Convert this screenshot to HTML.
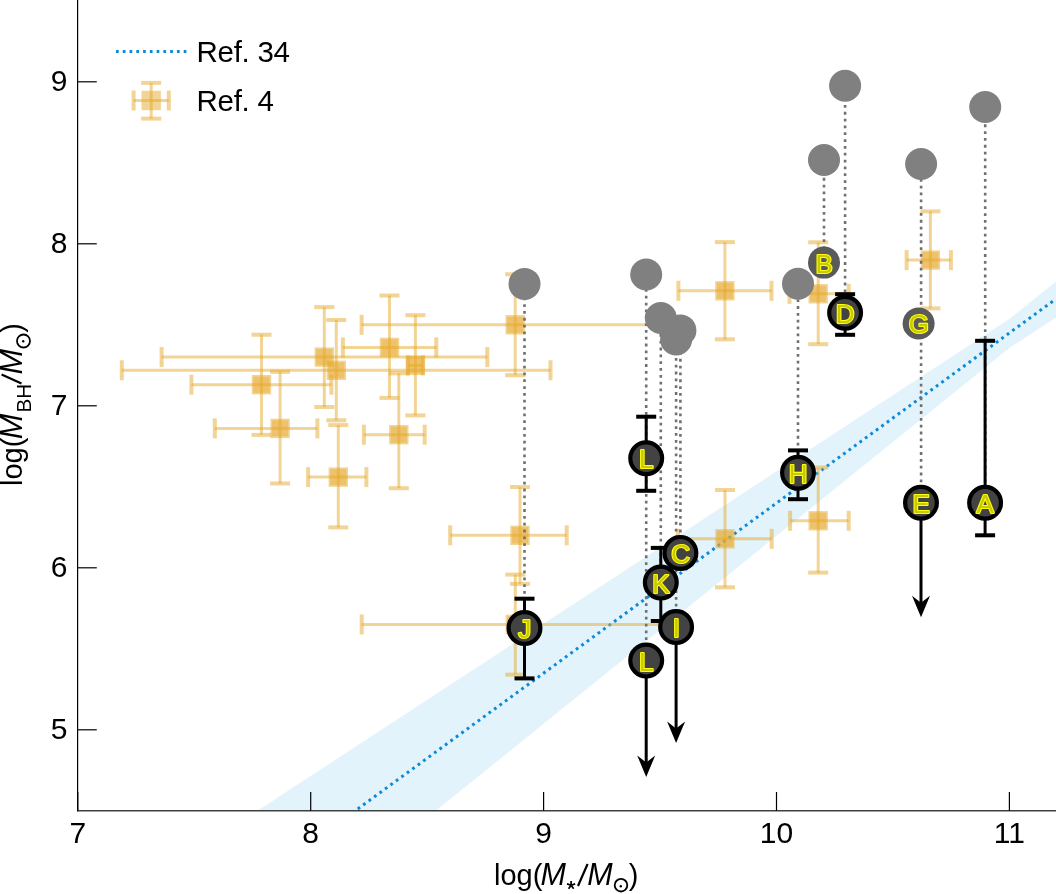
<!DOCTYPE html>
<html><head><meta charset="utf-8"><title>plot</title><style>
html,body{margin:0;padding:0;background:#fff;width:1056px;height:894px;overflow:hidden}
svg{display:block;will-change:transform}
text{font-family:"Liberation Sans",sans-serif}
</style></head><body>
<svg width="1056" height="894" viewBox="0 0 1056 894">
<polygon points="257.4,810.8 1009.4,319.1 1056.0,281.5 1056.0,317.5 1009.4,348.0 435.8,810.8" fill="#e3f3fb"/>
<line x1="355.2" y1="810.8" x2="1056" y2="298.9" stroke="#0a8ad8" stroke-width="3.0" stroke-dasharray="2.8 3.955" stroke-dashoffset="3.6"/>
<line x1="191.4" y1="384.7" x2="331.4" y2="384.7" stroke="rgba(230,170,45,0.5)" stroke-width="3.0"/><line x1="261.5" y1="334.7" x2="261.5" y2="434.9" stroke="rgba(230,170,45,0.5)" stroke-width="3.0"/><rect x="189.4" y="374.7" width="4.0" height="20.0" fill="rgba(230,170,45,0.5)"/><rect x="329.4" y="374.7" width="4.0" height="20.0" fill="rgba(230,170,45,0.5)"/><rect x="251.5" y="332.7" width="20.0" height="4.0" fill="rgba(230,170,45,0.5)"/><rect x="251.5" y="432.9" width="20.0" height="4.0" fill="rgba(230,170,45,0.5)"/><rect x="251.8" y="375.0" width="19.4" height="19.4" fill="rgba(230,170,45,0.5)"/><rect x="253.4" y="376.6" width="16.2" height="16.2" fill="rgba(230,170,45,0.42)"/>
<line x1="214.8" y1="428.4" x2="317.4" y2="428.4" stroke="rgba(230,170,45,0.5)" stroke-width="3.0"/><line x1="280.1" y1="371.8" x2="280.1" y2="483.5" stroke="rgba(230,170,45,0.5)" stroke-width="3.0"/><rect x="212.8" y="418.4" width="4.0" height="20.0" fill="rgba(230,170,45,0.5)"/><rect x="315.4" y="418.4" width="4.0" height="20.0" fill="rgba(230,170,45,0.5)"/><rect x="270.1" y="369.8" width="20.0" height="4.0" fill="rgba(230,170,45,0.5)"/><rect x="270.1" y="481.5" width="20.0" height="4.0" fill="rgba(230,170,45,0.5)"/><rect x="270.4" y="418.7" width="19.4" height="19.4" fill="rgba(230,170,45,0.5)"/><rect x="272.0" y="420.3" width="16.2" height="16.2" fill="rgba(230,170,45,0.42)"/>
<line x1="161.6" y1="357.1" x2="487.3" y2="357.1" stroke="rgba(230,170,45,0.5)" stroke-width="3.0"/><line x1="324.3" y1="307.1" x2="324.3" y2="407.0" stroke="rgba(230,170,45,0.5)" stroke-width="3.0"/><rect x="159.6" y="347.1" width="4.0" height="20.0" fill="rgba(230,170,45,0.5)"/><rect x="485.3" y="347.1" width="4.0" height="20.0" fill="rgba(230,170,45,0.5)"/><rect x="314.3" y="305.1" width="20.0" height="4.0" fill="rgba(230,170,45,0.5)"/><rect x="314.3" y="405.0" width="20.0" height="4.0" fill="rgba(230,170,45,0.5)"/><rect x="314.6" y="347.4" width="19.4" height="19.4" fill="rgba(230,170,45,0.5)"/><rect x="316.2" y="349.0" width="16.2" height="16.2" fill="rgba(230,170,45,0.42)"/>
<line x1="121.8" y1="370.3" x2="550.5" y2="370.3" stroke="rgba(230,170,45,0.5)" stroke-width="3.0"/><line x1="336.3" y1="320.0" x2="336.3" y2="420.3" stroke="rgba(230,170,45,0.5)" stroke-width="3.0"/><rect x="119.8" y="360.3" width="4.0" height="20.0" fill="rgba(230,170,45,0.5)"/><rect x="548.5" y="360.3" width="4.0" height="20.0" fill="rgba(230,170,45,0.5)"/><rect x="326.3" y="318.0" width="20.0" height="4.0" fill="rgba(230,170,45,0.5)"/><rect x="326.3" y="418.3" width="20.0" height="4.0" fill="rgba(230,170,45,0.5)"/><rect x="326.6" y="360.6" width="19.4" height="19.4" fill="rgba(230,170,45,0.5)"/><rect x="328.2" y="362.2" width="16.2" height="16.2" fill="rgba(230,170,45,0.42)"/>
<line x1="342.9" y1="347.4" x2="436.3" y2="347.4" stroke="rgba(230,170,45,0.5)" stroke-width="3.0"/><line x1="389.5" y1="295.5" x2="389.5" y2="397.9" stroke="rgba(230,170,45,0.5)" stroke-width="3.0"/><rect x="340.9" y="337.4" width="4.0" height="20.0" fill="rgba(230,170,45,0.5)"/><rect x="434.3" y="337.4" width="4.0" height="20.0" fill="rgba(230,170,45,0.5)"/><rect x="379.5" y="293.5" width="20.0" height="4.0" fill="rgba(230,170,45,0.5)"/><rect x="379.5" y="395.9" width="20.0" height="4.0" fill="rgba(230,170,45,0.5)"/><rect x="379.8" y="337.7" width="19.4" height="19.4" fill="rgba(230,170,45,0.5)"/><rect x="381.4" y="339.3" width="16.2" height="16.2" fill="rgba(230,170,45,0.42)"/>
<line x1="408.0" y1="365.4" x2="422.8" y2="365.4" stroke="rgba(230,170,45,0.5)" stroke-width="3.0"/><line x1="415.4" y1="315.2" x2="415.4" y2="415.4" stroke="rgba(230,170,45,0.5)" stroke-width="3.0"/><rect x="406.0" y="355.4" width="4.0" height="20.0" fill="rgba(230,170,45,0.5)"/><rect x="420.8" y="355.4" width="4.0" height="20.0" fill="rgba(230,170,45,0.5)"/><rect x="405.4" y="313.2" width="20.0" height="4.0" fill="rgba(230,170,45,0.5)"/><rect x="405.4" y="413.4" width="20.0" height="4.0" fill="rgba(230,170,45,0.5)"/><rect x="405.7" y="355.7" width="19.4" height="19.4" fill="rgba(230,170,45,0.5)"/><rect x="407.3" y="357.3" width="16.2" height="16.2" fill="rgba(230,170,45,0.42)"/>
<line x1="363.9" y1="434.7" x2="424.7" y2="434.7" stroke="rgba(230,170,45,0.5)" stroke-width="3.0"/><line x1="398.8" y1="373.3" x2="398.8" y2="488.2" stroke="rgba(230,170,45,0.5)" stroke-width="3.0"/><rect x="361.9" y="424.7" width="4.0" height="20.0" fill="rgba(230,170,45,0.5)"/><rect x="422.7" y="424.7" width="4.0" height="20.0" fill="rgba(230,170,45,0.5)"/><rect x="388.8" y="371.3" width="20.0" height="4.0" fill="rgba(230,170,45,0.5)"/><rect x="388.8" y="486.2" width="20.0" height="4.0" fill="rgba(230,170,45,0.5)"/><rect x="389.1" y="425.0" width="19.4" height="19.4" fill="rgba(230,170,45,0.5)"/><rect x="390.7" y="426.6" width="16.2" height="16.2" fill="rgba(230,170,45,0.42)"/>
<line x1="308.1" y1="477.1" x2="366.4" y2="477.1" stroke="rgba(230,170,45,0.5)" stroke-width="3.0"/><line x1="338.3" y1="425.1" x2="338.3" y2="527.4" stroke="rgba(230,170,45,0.5)" stroke-width="3.0"/><rect x="306.1" y="467.1" width="4.0" height="20.0" fill="rgba(230,170,45,0.5)"/><rect x="364.4" y="467.1" width="4.0" height="20.0" fill="rgba(230,170,45,0.5)"/><rect x="328.3" y="423.1" width="20.0" height="4.0" fill="rgba(230,170,45,0.5)"/><rect x="328.3" y="525.4" width="20.0" height="4.0" fill="rgba(230,170,45,0.5)"/><rect x="328.6" y="467.4" width="19.4" height="19.4" fill="rgba(230,170,45,0.5)"/><rect x="330.2" y="469.0" width="16.2" height="16.2" fill="rgba(230,170,45,0.42)"/>
<line x1="361.6" y1="324.8" x2="668.8" y2="324.8" stroke="rgba(230,170,45,0.5)" stroke-width="3.0"/><line x1="515.2" y1="274.3" x2="515.2" y2="375.2" stroke="rgba(230,170,45,0.5)" stroke-width="3.0"/><rect x="359.6" y="314.8" width="4.0" height="20.0" fill="rgba(230,170,45,0.5)"/><rect x="666.8" y="314.8" width="4.0" height="20.0" fill="rgba(230,170,45,0.5)"/><rect x="505.2" y="272.3" width="20.0" height="4.0" fill="rgba(230,170,45,0.5)"/><rect x="505.2" y="373.2" width="20.0" height="4.0" fill="rgba(230,170,45,0.5)"/><rect x="505.5" y="315.1" width="19.4" height="19.4" fill="rgba(230,170,45,0.5)"/><rect x="507.1" y="316.7" width="16.2" height="16.2" fill="rgba(230,170,45,0.42)"/>
<line x1="450.2" y1="535.3" x2="566.7" y2="535.3" stroke="rgba(230,170,45,0.5)" stroke-width="3.0"/><line x1="520.0" y1="487.0" x2="520.0" y2="583.9" stroke="rgba(230,170,45,0.5)" stroke-width="3.0"/><rect x="448.2" y="525.3" width="4.0" height="20.0" fill="rgba(230,170,45,0.5)"/><rect x="564.7" y="525.3" width="4.0" height="20.0" fill="rgba(230,170,45,0.5)"/><rect x="510.0" y="485.0" width="20.0" height="4.0" fill="rgba(230,170,45,0.5)"/><rect x="510.0" y="581.9" width="20.0" height="4.0" fill="rgba(230,170,45,0.5)"/><rect x="510.3" y="525.6" width="19.4" height="19.4" fill="rgba(230,170,45,0.5)"/><rect x="511.9" y="527.2" width="16.2" height="16.2" fill="rgba(230,170,45,0.42)"/>
<line x1="678.4" y1="290.8" x2="771.5" y2="290.8" stroke="rgba(230,170,45,0.5)" stroke-width="3.0"/><line x1="724.9" y1="242.1" x2="724.9" y2="339.3" stroke="rgba(230,170,45,0.5)" stroke-width="3.0"/><rect x="676.4" y="280.8" width="4.0" height="20.0" fill="rgba(230,170,45,0.5)"/><rect x="769.5" y="280.8" width="4.0" height="20.0" fill="rgba(230,170,45,0.5)"/><rect x="714.9" y="240.1" width="20.0" height="4.0" fill="rgba(230,170,45,0.5)"/><rect x="714.9" y="337.3" width="20.0" height="4.0" fill="rgba(230,170,45,0.5)"/><rect x="715.2" y="281.1" width="19.4" height="19.4" fill="rgba(230,170,45,0.5)"/><rect x="716.8" y="282.7" width="16.2" height="16.2" fill="rgba(230,170,45,0.42)"/>
<line x1="789.5" y1="293.8" x2="848.7" y2="293.8" stroke="rgba(230,170,45,0.5)" stroke-width="3.0"/><line x1="818.2" y1="242.3" x2="818.2" y2="344.2" stroke="rgba(230,170,45,0.5)" stroke-width="3.0"/><rect x="787.5" y="283.8" width="4.0" height="20.0" fill="rgba(230,170,45,0.5)"/><rect x="846.7" y="283.8" width="4.0" height="20.0" fill="rgba(230,170,45,0.5)"/><rect x="808.2" y="240.3" width="20.0" height="4.0" fill="rgba(230,170,45,0.5)"/><rect x="808.2" y="342.2" width="20.0" height="4.0" fill="rgba(230,170,45,0.5)"/><rect x="808.5" y="284.1" width="19.4" height="19.4" fill="rgba(230,170,45,0.5)"/><rect x="810.1" y="285.7" width="16.2" height="16.2" fill="rgba(230,170,45,0.42)"/>
<line x1="906.6" y1="260.1" x2="950.9" y2="260.1" stroke="rgba(230,170,45,0.5)" stroke-width="3.0"/><line x1="930.4" y1="211.4" x2="930.4" y2="308.4" stroke="rgba(230,170,45,0.5)" stroke-width="3.0"/><rect x="904.6" y="250.1" width="4.0" height="20.0" fill="rgba(230,170,45,0.5)"/><rect x="948.9" y="250.1" width="4.0" height="20.0" fill="rgba(230,170,45,0.5)"/><rect x="920.4" y="209.4" width="20.0" height="4.0" fill="rgba(230,170,45,0.5)"/><rect x="920.4" y="306.4" width="20.0" height="4.0" fill="rgba(230,170,45,0.5)"/><rect x="920.7" y="250.4" width="19.4" height="19.4" fill="rgba(230,170,45,0.5)"/><rect x="922.3" y="252.0" width="16.2" height="16.2" fill="rgba(230,170,45,0.42)"/>
<line x1="790.1" y1="520.8" x2="848.7" y2="520.8" stroke="rgba(230,170,45,0.5)" stroke-width="3.0"/><line x1="818.2" y1="467.5" x2="818.2" y2="572.6" stroke="rgba(230,170,45,0.5)" stroke-width="3.0"/><rect x="788.1" y="510.8" width="4.0" height="20.0" fill="rgba(230,170,45,0.5)"/><rect x="846.7" y="510.8" width="4.0" height="20.0" fill="rgba(230,170,45,0.5)"/><rect x="808.2" y="465.5" width="20.0" height="4.0" fill="rgba(230,170,45,0.5)"/><rect x="808.2" y="570.6" width="20.0" height="4.0" fill="rgba(230,170,45,0.5)"/><rect x="808.5" y="511.1" width="19.4" height="19.4" fill="rgba(230,170,45,0.5)"/><rect x="810.1" y="512.7" width="16.2" height="16.2" fill="rgba(230,170,45,0.42)"/>
<line x1="678.0" y1="538.8" x2="771.7" y2="538.8" stroke="rgba(230,170,45,0.5)" stroke-width="3.0"/><line x1="725.0" y1="490.0" x2="725.0" y2="587.3" stroke="rgba(230,170,45,0.5)" stroke-width="3.0"/><rect x="676.0" y="528.8" width="4.0" height="20.0" fill="rgba(230,170,45,0.5)"/><rect x="769.7" y="528.8" width="4.0" height="20.0" fill="rgba(230,170,45,0.5)"/><rect x="715.0" y="488.0" width="20.0" height="4.0" fill="rgba(230,170,45,0.5)"/><rect x="715.0" y="585.3" width="20.0" height="4.0" fill="rgba(230,170,45,0.5)"/><rect x="715.3" y="529.1" width="19.4" height="19.4" fill="rgba(230,170,45,0.5)"/><rect x="716.9" y="530.7" width="16.2" height="16.2" fill="rgba(230,170,45,0.42)"/>
<line x1="361.7" y1="624.4" x2="668.9" y2="624.4" stroke="rgba(230,170,45,0.5)" stroke-width="3.0"/><line x1="515.3" y1="574.6" x2="515.3" y2="674.7" stroke="rgba(230,170,45,0.5)" stroke-width="3.0"/><rect x="359.7" y="614.4" width="4.0" height="20.0" fill="rgba(230,170,45,0.5)"/><rect x="666.9" y="614.4" width="4.0" height="20.0" fill="rgba(230,170,45,0.5)"/><rect x="505.3" y="572.6" width="20.0" height="4.0" fill="rgba(230,170,45,0.5)"/><rect x="505.3" y="672.7" width="20.0" height="4.0" fill="rgba(230,170,45,0.5)"/><rect x="505.6" y="614.7" width="19.4" height="19.4" fill="rgba(230,170,45,0.5)"/><rect x="507.2" y="616.3" width="16.2" height="16.2" fill="rgba(230,170,45,0.42)"/>
<line x1="524.5" y1="628.0" x2="524.5" y2="283.9" stroke="#707070" stroke-width="2.6" stroke-dasharray="2.8 4.03"/>
<line x1="646.2" y1="660.6" x2="646.2" y2="274.5" stroke="#707070" stroke-width="2.6" stroke-dasharray="2.8 4.03"/>
<line x1="660.8" y1="582.6" x2="660.8" y2="318.0" stroke="#707070" stroke-width="2.6" stroke-dasharray="2.8 4.03"/>
<line x1="680.4" y1="552.9" x2="680.4" y2="330.4" stroke="#707070" stroke-width="2.6" stroke-dasharray="2.8 4.03"/>
<line x1="676.1" y1="627.1" x2="676.1" y2="339.4" stroke="#707070" stroke-width="2.6" stroke-dasharray="2.8 4.03"/>
<line x1="798.0" y1="472.8" x2="798.0" y2="283.7" stroke="#707070" stroke-width="2.6" stroke-dasharray="2.8 4.03"/>
<line x1="824.0" y1="262.6" x2="824.0" y2="160.0" stroke="#707070" stroke-width="2.6" stroke-dasharray="2.8 4.03"/>
<line x1="845.1" y1="312.7" x2="845.1" y2="85.8" stroke="#707070" stroke-width="2.6" stroke-dasharray="2.8 4.03"/>
<line x1="921.1" y1="502.7" x2="921.1" y2="164.0" stroke="#707070" stroke-width="2.6" stroke-dasharray="2.8 4.03"/>
<line x1="985.2" y1="502.8" x2="985.2" y2="107.0" stroke="#707070" stroke-width="2.6" stroke-dasharray="2.8 4.03"/>
<circle cx="524.5" cy="283.9" r="16" fill="#808080"/>
<circle cx="646.2" cy="274.5" r="16" fill="#808080"/>
<circle cx="660.8" cy="318.0" r="16" fill="#808080"/>
<circle cx="680.4" cy="330.4" r="16" fill="#808080"/>
<circle cx="676.1" cy="339.4" r="16" fill="#808080"/>
<circle cx="798.0" cy="283.7" r="16" fill="#808080"/>
<circle cx="824.0" cy="160.0" r="16" fill="#808080"/>
<circle cx="845.1" cy="85.8" r="16" fill="#808080"/>
<circle cx="921.1" cy="164.0" r="16" fill="#808080"/>
<circle cx="985.2" cy="107.0" r="16" fill="#808080"/>
<line x1="985.1" y1="340.8" x2="985.1" y2="535.3" stroke="#000" stroke-width="3"/>
<rect x="975.1" y="338.8" width="20" height="4" fill="#000"/>
<rect x="975.1" y="533.3" width="20" height="4" fill="#000"/>
<line x1="845.1" y1="294.2" x2="845.1" y2="334.8" stroke="#000" stroke-width="3"/>
<rect x="835.1" y="292.2" width="20" height="4" fill="#000"/>
<rect x="835.1" y="332.8" width="20" height="4" fill="#000"/>
<line x1="798.0" y1="450.4" x2="798.0" y2="499.2" stroke="#000" stroke-width="3"/>
<rect x="788.0" y="448.4" width="20" height="4" fill="#000"/>
<rect x="788.0" y="497.2" width="20" height="4" fill="#000"/>
<line x1="524.5" y1="598.7" x2="524.5" y2="678.4" stroke="#000" stroke-width="3"/>
<rect x="514.5" y="596.7" width="20" height="4" fill="#000"/>
<rect x="514.5" y="676.4" width="20" height="4" fill="#000"/>
<line x1="660.8" y1="547.9" x2="660.8" y2="621.0" stroke="#000" stroke-width="3"/>
<rect x="650.8" y="545.9" width="20" height="4" fill="#000"/>
<rect x="650.8" y="619.0" width="20" height="4" fill="#000"/>
<line x1="646.2" y1="416.7" x2="646.2" y2="490.8" stroke="#000" stroke-width="3"/>
<rect x="636.2" y="414.7" width="20" height="4" fill="#000"/>
<rect x="636.2" y="488.8" width="20" height="4" fill="#000"/>
<line x1="921.0" y1="502.7" x2="921.0" y2="607.3" stroke="#000" stroke-width="3"/>
<path d="M921.0,617.3 L912.0,595.8 L921.0,602.8 L930.0,595.8 Z" fill="#000"/>
<line x1="676.1" y1="627.1" x2="676.1" y2="733.0" stroke="#000" stroke-width="3"/>
<path d="M676.1,743.0 L667.1,721.5 L676.1,728.5 L685.1,721.5 Z" fill="#000"/>
<line x1="646.2" y1="660.6" x2="646.2" y2="767.0" stroke="#000" stroke-width="3"/>
<path d="M646.2,777.0 L637.2,755.5 L646.2,762.5 L655.2,755.5 Z" fill="#000"/>
<circle cx="524.5" cy="628.0" r="15.9" fill="#434343" stroke="#000" stroke-width="4.2"/>
<text x="524.65" y="637.94" text-anchor="middle" font-size="26.0" fill="#c8c800" stroke="#ffff00" stroke-width="2.2" paint-order="stroke" stroke-linejoin="round">J</text>
<circle cx="646.2" cy="458.2" r="15.9" fill="#434343" stroke="#000" stroke-width="4.2"/>
<text x="646.35" y="468.14" text-anchor="middle" font-size="26.0" fill="#c8c800" stroke="#ffff00" stroke-width="2.2" paint-order="stroke" stroke-linejoin="round">L</text>
<circle cx="646.2" cy="660.6" r="15.9" fill="#434343" stroke="#000" stroke-width="4.2"/>
<text x="646.35" y="670.54" text-anchor="middle" font-size="26.0" fill="#c8c800" stroke="#ffff00" stroke-width="2.2" paint-order="stroke" stroke-linejoin="round">L</text>
<circle cx="676.1" cy="627.1" r="15.9" fill="#434343" stroke="#000" stroke-width="4.2"/>
<text x="676.25" y="637.04" text-anchor="middle" font-size="26.0" fill="#c8c800" stroke="#ffff00" stroke-width="2.2" paint-order="stroke" stroke-linejoin="round">I</text>
<circle cx="680.4" cy="552.9" r="15.9" fill="#434343" stroke="#000" stroke-width="4.2"/>
<text x="680.55" y="562.84" text-anchor="middle" font-size="26.0" fill="#c8c800" stroke="#ffff00" stroke-width="2.2" paint-order="stroke" stroke-linejoin="round">C</text>
<circle cx="660.8" cy="582.6" r="15.9" fill="#434343" stroke="#000" stroke-width="4.2"/>
<text x="660.95" y="592.54" text-anchor="middle" font-size="26.0" fill="#c8c800" stroke="#ffff00" stroke-width="2.2" paint-order="stroke" stroke-linejoin="round">K</text>
<circle cx="798.0" cy="472.8" r="15.9" fill="#434343" stroke="#000" stroke-width="4.2"/>
<text x="798.15" y="482.74" text-anchor="middle" font-size="26.0" fill="#c8c800" stroke="#ffff00" stroke-width="2.2" paint-order="stroke" stroke-linejoin="round">H</text>
<circle cx="824.0" cy="262.6" r="16" fill="#5a5a5a"/>
<text x="824.15" y="272.54" text-anchor="middle" font-size="26.0" fill="#c8c800" stroke="#ffff00" stroke-width="2.2" paint-order="stroke" stroke-linejoin="round">B</text>
<circle cx="845.1" cy="312.7" r="15.9" fill="#434343" stroke="#000" stroke-width="4.2"/>
<text x="845.25" y="322.64" text-anchor="middle" font-size="26.0" fill="#c8c800" stroke="#ffff00" stroke-width="2.2" paint-order="stroke" stroke-linejoin="round">D</text>
<circle cx="918.6" cy="323.5" r="16" fill="#5a5a5a"/>
<text x="918.75" y="333.44" text-anchor="middle" font-size="26.0" fill="#c8c800" stroke="#ffff00" stroke-width="2.2" paint-order="stroke" stroke-linejoin="round">G</text>
<circle cx="921.0" cy="502.7" r="15.9" fill="#434343" stroke="#000" stroke-width="4.2"/>
<text x="921.15" y="512.64" text-anchor="middle" font-size="26.0" fill="#c8c800" stroke="#ffff00" stroke-width="2.2" paint-order="stroke" stroke-linejoin="round">E</text>
<circle cx="985.1" cy="502.8" r="15.9" fill="#434343" stroke="#000" stroke-width="4.2"/>
<text x="985.25" y="512.74" text-anchor="middle" font-size="26.0" fill="#c8c800" stroke="#ffff00" stroke-width="2.2" paint-order="stroke" stroke-linejoin="round">A</text>
<line x1="77.6" y1="0" x2="77.6" y2="811.5" stroke="#000" stroke-width="1.2"/>
<line x1="77.6" y1="810.8" x2="1056" y2="810.8" stroke="#404040" stroke-width="1.4"/>
<line x1="77.8" y1="729.8" x2="96.8" y2="729.8" stroke="#000" stroke-width="1.2"/>
<text x="67.4" y="738.8" text-anchor="end" font-size="30">5</text>
<line x1="77.8" y1="567.8" x2="96.8" y2="567.8" stroke="#000" stroke-width="1.2"/>
<text x="67.4" y="576.8" text-anchor="end" font-size="30">6</text>
<line x1="77.8" y1="405.8" x2="96.8" y2="405.8" stroke="#000" stroke-width="1.2"/>
<text x="67.4" y="414.7" text-anchor="end" font-size="30">7</text>
<line x1="77.8" y1="243.8" x2="96.8" y2="243.8" stroke="#000" stroke-width="1.2"/>
<text x="67.4" y="252.7" text-anchor="end" font-size="30">8</text>
<line x1="77.8" y1="81.8" x2="96.8" y2="81.8" stroke="#000" stroke-width="1.2"/>
<text x="67.4" y="90.7" text-anchor="end" font-size="30">9</text>
<line x1="77.8" y1="810.8" x2="77.8" y2="792" stroke="#000" stroke-width="1.2"/>
<text x="77.8" y="843.1" text-anchor="middle" font-size="30">7</text>
<line x1="310.7" y1="810.8" x2="310.7" y2="792" stroke="#000" stroke-width="1.2"/>
<text x="310.7" y="843.1" text-anchor="middle" font-size="30">8</text>
<line x1="543.6" y1="810.8" x2="543.6" y2="792" stroke="#000" stroke-width="1.2"/>
<text x="543.6" y="843.1" text-anchor="middle" font-size="30">9</text>
<line x1="776.5" y1="810.8" x2="776.5" y2="792" stroke="#000" stroke-width="1.2"/>
<text x="776.5" y="843.1" text-anchor="middle" font-size="30">10</text>
<line x1="1009.4" y1="810.8" x2="1009.4" y2="792" stroke="#000" stroke-width="1.2"/>
<text x="1009.4" y="843.1" text-anchor="middle" font-size="30">11</text>
<text x="494" y="885.1" font-size="29">log(</text>
<text x="540.5" y="885.1" font-size="30.5" font-style="italic">M</text>
<text x="587.2" y="885.1" font-size="30.5" font-style="italic">M</text>
<text x="628.8" y="885.1" font-size="29">)</text>
<line x1="587.6" y1="864" x2="578" y2="886" stroke="#000" stroke-width="2.2"/>
<path d="M571.10,885.20 L571.10,880.90 M571.10,885.20 L575.19,883.87 M571.10,885.20 L573.63,888.68 M571.10,885.20 L568.57,888.68 M571.10,885.20 L567.01,883.87 " stroke="#000" stroke-width="1.7" stroke-linecap="butt"/>
<circle cx="621" cy="885.2" r="6.3" fill="none" stroke="#000" stroke-width="1.8"/><circle cx="620.8" cy="886.2" r="1.2" fill="#000"/>
<g transform="translate(22.1,486.0) rotate(-90)"><text x="0" y="0" font-size="29">log(</text></g>
<g transform="translate(21.9,439.3) rotate(-90)"><text x="0" y="0" font-size="30.5" font-style="italic">M</text></g>
<g transform="translate(30.9,412.6) rotate(-90)"><text x="0" y="0" font-size="20.6">BH</text></g>
<g transform="translate(21.9,374.5) rotate(-90)"><text x="0" y="0" font-size="30.5" font-style="italic">M</text></g>
<g transform="translate(21.9,332.8) rotate(-90)"><text x="0" y="0" font-size="29">)</text></g>
<line x1="21.5" y1="383.4" x2="1.6" y2="374.4" stroke="#000" stroke-width="2.2"/>
<circle cx="23.5" cy="341" r="6.5" fill="none" stroke="#000" stroke-width="1.8"/><circle cx="23.2" cy="341.2" r="1.2" fill="#000"/>
<line x1="116" y1="51.4" x2="186.5" y2="51.4" stroke="#0a8ad8" stroke-width="3.0" stroke-dasharray="2.7 4.07"/>
<text x="196.6" y="61.7" font-size="29.5" letter-spacing="-0.3">Ref. 34</text>
<line x1="133.6" y1="100.5" x2="168.8" y2="100.5" stroke="rgba(230,170,45,0.5)" stroke-width="3.0"/><line x1="151.2" y1="82.9" x2="151.2" y2="118.6" stroke="rgba(230,170,45,0.5)" stroke-width="3.0"/><rect x="131.6" y="90.5" width="4.0" height="20.0" fill="rgba(230,170,45,0.5)"/><rect x="166.8" y="90.5" width="4.0" height="20.0" fill="rgba(230,170,45,0.5)"/><rect x="141.2" y="80.9" width="20.0" height="4.0" fill="rgba(230,170,45,0.5)"/><rect x="141.2" y="116.6" width="20.0" height="4.0" fill="rgba(230,170,45,0.5)"/><rect x="141.5" y="90.8" width="19.4" height="19.4" fill="rgba(230,170,45,0.5)"/>
<text x="196.6" y="111" font-size="29.5" letter-spacing="-0.3">Ref. 4</text>
</svg>
</body></html>
